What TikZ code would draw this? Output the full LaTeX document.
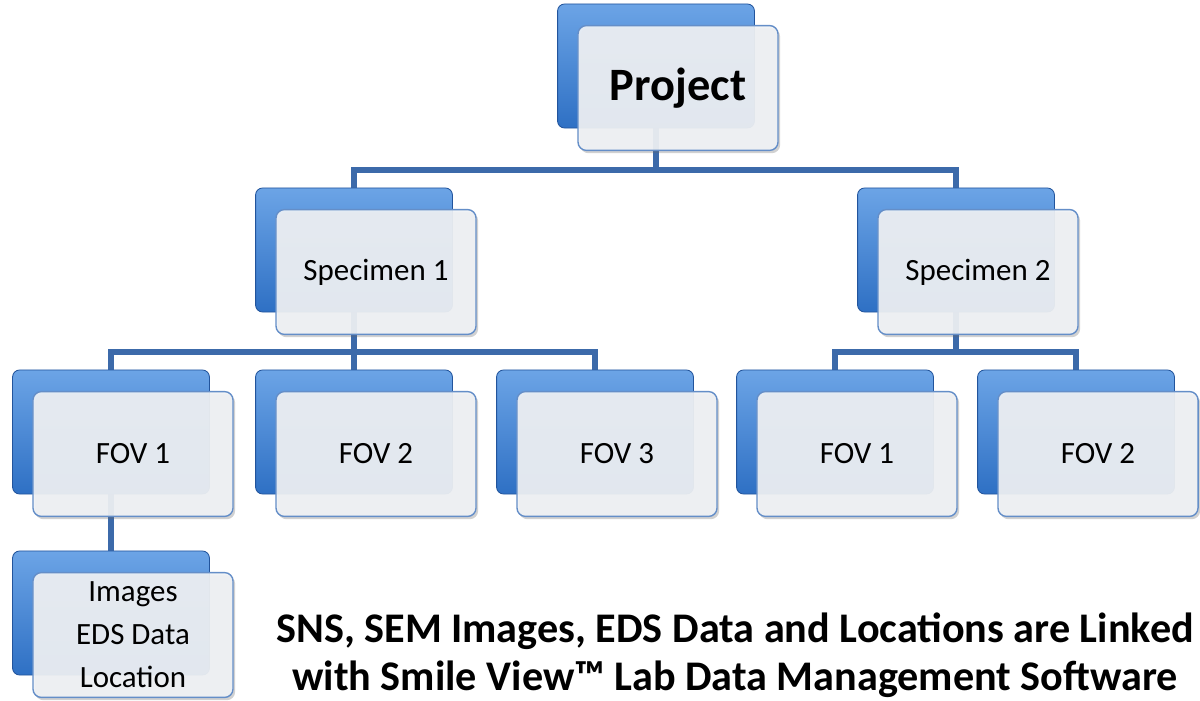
\documentclass[tikz,border=0pt]{standalone}
\usepackage{fontspec}
\setmainfont{Carlito}
\usepackage{tikz}
\usetikzlibrary{calc,positioning,backgrounds,shadows}
\definecolor{bk}{RGB}{46,112,196}
\definecolor{bkt}{RGB}{108,164,230}
\definecolor{bkd}{RGB}{34,84,156}
\definecolor{fr}{RGB}{240,242,245}
\definecolor{fre}{RGB}{100,142,200}
\definecolor{ln}{RGB}{60,106,170}
\tikzset{
	back/.style={rectangle,rounded corners=5pt,minimum width=4.92cm,minimum height=3.1cm,inner sep=0pt,
		top color=bkt,bottom color=bk,draw=bkd,line width=0.6pt},
	front/.style={rectangle,rounded corners=6pt,minimum width=5cm,minimum height=3.12cm,inner sep=0pt,
		fill=fr,fill opacity=0.92,text opacity=1,draw=fre,line width=1pt,align=center,
		font=\fontsize{22}{30.5}\selectfont,
		drop shadow={shadow xshift=1.5pt,shadow yshift=-2pt,opacity=0.3,fill=black!60}},
	link/.style={draw=ln,line width=3.6pt},
	caption/.style={align=center,font=\fontsize{30}{34}\selectfont\bfseries}
}

\begin{document}
\begin{tikzpicture}[x=0.025cm,y=-0.025cm]
	\useasboundingbox (0,0) rectangle (1200,701);
	\node[back] (p0) at (656,66) {};
	\node[front,font=\fontsize{33}{40}\selectfont\bfseries] (p1) at ([shift={(22,22)}]p0) {Project};
	\node[back] (s1) at (354,250) {};
	\node[front] (s1f) at ([shift={(22,22)}]s1) {Specimen 1};
	\node[back] (s2) at (956,250) {};
	\node[front] (s2f) at ([shift={(22,22)}]s2) {Specimen 2};
	\node[back] (f11) at (111,432) {};
	\node[front] (f11f) at ([shift={(22,22)}]f11) {FOV 1};
	\node[back] (f12) at (354,432) {};
	\node[front] (f12f) at ([shift={(22,22)}]f12) {FOV 2};
	\node[back] (f13) at (595,432) {};
	\node[front] (f13f) at ([shift={(22,22)}]f13) {FOV 3};
	\node[back] (f21) at (835,432) {};
	\node[front] (f21f) at ([shift={(22,22)}]f21) {FOV 1};
	\node[back] (f22) at (1076,432) {};
	\node[front] (f22f) at ([shift={(22,22)}]f22) {FOV 2};
	\node[back] (d0) at (111,613) {};
	\node[front] (d1) at ([shift={(22,22)}]d0) {Images\\EDS Data\\Location};
	\coordinate (j0) at (656,170);
	\coordinate (j1) at (354,352);
	\coordinate (j2) at (956,352);
	\begin{scope}[on background layer]
		\draw[link] (p0.center) -- (j0);
		\draw[link] (s1.center) |- (j0) -| (s2.center);
		\draw[link] (s1.center) -- (j1);
		\draw[link] (f11.center) |- (j1) -| (f13.center);
		\draw[link] (f12.center) -- (j1);
		\draw[link] (s2.center) -- (j2);
		\draw[link] (f21.center) |- (j2) -| (f22.center);
		\draw[link] (f11.center) -- (d0.center);
	\end{scope}
	\node[caption] (cap) at (735,655) {SNS, SEM Images, EDS Data and Locations are Linked\\with Smile View™ Lab Data Management Software};
\end{tikzpicture}
\end{document}
